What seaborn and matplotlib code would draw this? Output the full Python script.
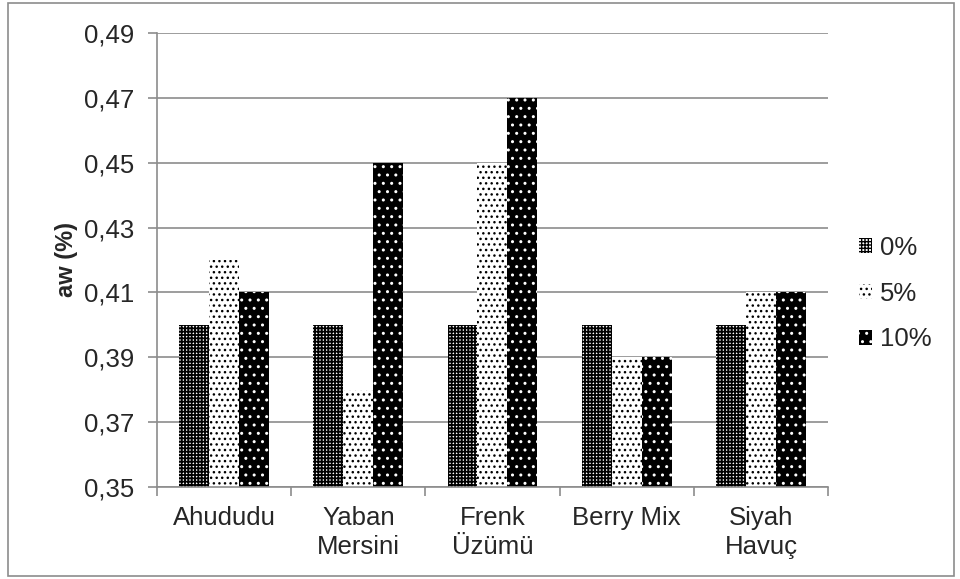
import pandas as pd
import matplotlib.pyplot as plt
import seaborn as sns
from matplotlib.patches import Rectangle, Patch

# --- datos ---
categories = ['Ahududu', 'Yaban\nMersini', 'Frenk\nÜzümü', 'Berry Mix', 'Siyah\nHavuç']
series = ['0%', '5%', '10%']
vals_0 = [0.40, 0.40, 0.40, 0.40, 0.40]
vals_5 = [0.42, 0.38, 0.45, 0.39, 0.41]
vals_10 = [0.41, 0.45, 0.47, 0.39, 0.41]
yticks = [0.35, 0.37, 0.39, 0.41, 0.43, 0.45, 0.47, 0.49]

df = pd.DataFrame({
    'cat': categories * 3,
    'serie': [s for s in series for _ in categories],
    'aw': vals_0 + vals_5 + vals_10,
})

sns.set_style('white')
plt.rcParams['font.family'] = ['Liberation Sans', 'DejaVu Sans']

fig = plt.figure(figsize=(9.6, 5.79), dpi=100)
ax = fig.add_axes([0.1635, 0.159, 0.699, 0.784])

sns.barplot(data=df, x='cat', y='aw', hue='serie', order=categories,
            hue_order=series, width=0.67, ax=ax, legend=False)

# estilos tipo Excel en blanco y negro
styles = {
    '0%': dict(face='white', hatch_col='black', hatch='+++++', hlw=1.3),
    '5%': dict(face='white', hatch_col='black', hatch='...', hlw=1.0),
    '10%': dict(face='black', hatch_col='white', hatch='..', hlw=1.0),
}


def apply_style(p, st):
    p.set_facecolor(st['face'])
    p.set_edgecolor(st['hatch_col'])
    p.set_hatch(st['hatch'])
    p.set_linewidth(0)
    if hasattr(p, 'set_hatch_linewidth'):
        p.set_hatch_linewidth(st['hlw'])
    else:
        p._hatch_linewidth = st['hlw']


for cont, s in zip(ax.containers, series):
    for bar in cont:
        apply_style(bar, styles[s])

ax.set_ylim(0.35, 0.49)
ax.set_yticks(yticks)
ax.set_yticklabels([f'{t:.2f}'.replace('.', ',') for t in yticks])
ax.yaxis.grid(True, color='#8c8c8c', linewidth=1.2)
ax.set_axisbelow(True)
ax.set_xlim(-0.5, len(categories) - 0.5)

for side in ['top', 'right']:
    ax.spines[side].set_visible(False)
for side in ['left', 'bottom']:
    ax.spines[side].set_color('#8c8c8c')
    ax.spines[side].set_linewidth(1.2)

ax.tick_params(axis='y', left=True, length=6.5, width=1.2, color='#8c8c8c',
               labelsize=18.5, pad=10)
ax.tick_params(axis='x', bottom=False, labelsize=18.5, pad=10)
ax.set_xticks([i - 0.5 for i in range(len(categories) + 1)], minor=True)
ax.tick_params(axis='x', which='minor', bottom=True, length=6.5, width=1.2,
               color='#8c8c8c')
for lbl in ax.get_xticklabels():
    lbl.set_linespacing(1.3)

ax.set_xlabel('')
ax.set_ylabel('aw (%)', fontsize=17, fontweight='bold', labelpad=4)

handles = []
for s in series:
    h = Patch()
    apply_style(h, styles[s])
    handles.append(h)
fig.legend(handles, series, loc='center left', bbox_to_anchor=(0.895, 0.493),
           frameon=False, fontsize=18.5, handlelength=0.5, handleheight=0.5,
           handletextpad=0.3, labelspacing=0.85, borderpad=0, borderaxespad=0)

# marco exterior
fig.patches.append(Rectangle((0.008, 0.006), 0.986, 0.988, transform=fig.transFigure,
                             fill=False, edgecolor='#8c8c8c', linewidth=1.2))

fig.savefig('out.png', dpi=100)
